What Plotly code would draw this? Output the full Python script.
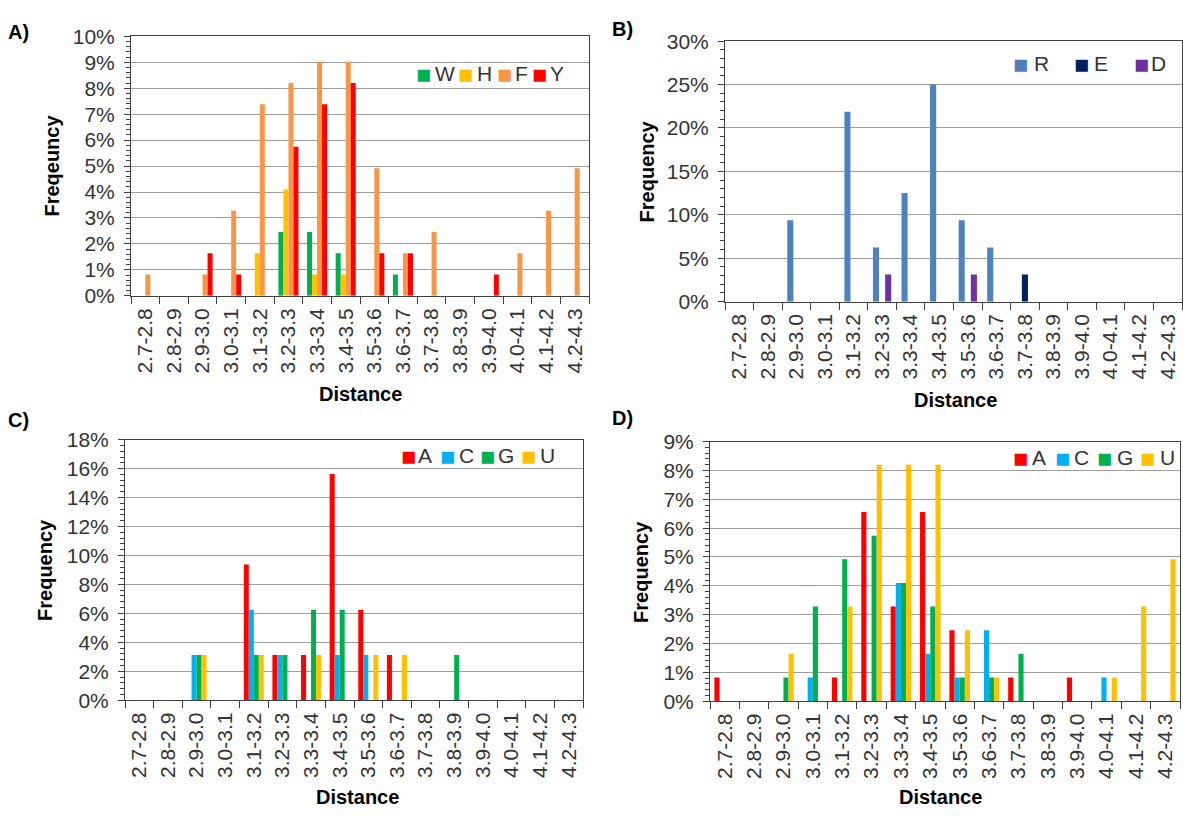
import plotly.graph_objects as go

W, H = 1183, 822

categories = ["2.7-2.8", "2.8-2.9", "2.9-3.0", "3.0-3.1", "3.1-3.2", "3.2-3.3",
              "3.3-3.4", "3.4-3.5", "3.5-3.6", "3.6-3.7", "3.7-3.8", "3.8-3.9",
              "3.9-4.0", "4.0-4.1", "4.1-4.2", "4.2-4.3"]

# Panel A (percent)
a_W = [0, 0, 0, 0, 0, 2.46, 2.46, 1.64, 0, 0.82, 0, 0, 0, 0, 0, 0]
a_H = [0, 0, 0, 0, 1.64, 4.10, 0.82, 0.82, 0, 0, 0, 0, 0, 0, 0, 0]
a_F = [0.82, 0, 0.82, 3.28, 7.38, 8.20, 9.02, 9.02, 4.92, 1.64, 2.46, 0, 0, 1.64, 3.28, 4.92]
a_Y = [0, 0, 1.64, 0.82, 0, 5.74, 7.38, 8.20, 1.64, 1.64, 0, 0, 0.82, 0, 0, 0]

# Panel B
b_R = [0, 0, 9.375, 0, 21.875, 6.25, 12.5, 25.0, 9.375, 6.25, 0, 0, 0, 0, 0, 0]
b_E = [0, 0, 0, 0, 0, 0, 0, 0, 0, 0, 3.125, 0, 0, 0, 0, 0]
b_D = [0, 0, 0, 0, 0, 3.125, 0, 0, 3.125, 0, 0, 0, 0, 0, 0, 0]

# Panel C
c_A = [0, 0, 0, 0, 9.375, 3.125, 3.125, 15.625, 6.25, 3.125, 0, 0, 0, 0, 0, 0]
c_C = [0, 0, 3.125, 0, 6.25, 3.125, 0, 3.125, 3.125, 0, 0, 0, 0, 0, 0, 0]
c_G = [0, 0, 3.125, 0, 3.125, 3.125, 6.25, 6.25, 0, 0, 0, 3.125, 0, 0, 0, 0]
c_U = [0, 0, 3.125, 0, 3.125, 0, 3.125, 0, 3.125, 3.125, 0, 0, 0, 0, 0, 0]

# Panel D
d_A = [0.82, 0, 0, 0, 0.82, 6.56, 3.28, 6.56, 2.46, 0, 0.82, 0, 0.82, 0, 0, 0]
d_C = [0, 0, 0, 0.82, 0, 0, 4.10, 1.64, 0.82, 2.46, 0, 0, 0, 0.82, 0, 0]
d_G = [0, 0, 0.82, 3.28, 4.92, 5.74, 4.10, 3.28, 0.82, 0.82, 1.64, 0, 0, 0, 0, 0]
d_U = [0, 0, 1.64, 0, 3.28, 8.20, 8.20, 8.20, 2.46, 0.82, 0, 0, 0, 0.82, 3.28, 4.92]

GREEN, YELLOW, ORANGE, RED = "#00B050", "#FFC000", "#F79646", "#FF0000"
BLUE, NAVY, PURPLE, CYAN = "#4F81BD", "#002060", "#7030A0", "#00B0F0"

FONT = "Liberation Sans, Arial, sans-serif"
TXT = "#333333"


def px_x(v):
    return v / W


def px_y(v):
    return 1 - v / H


panels = {
    "A": dict(box=(131, 589, 25, 292), ymax=10, dtick=1,
              series=[("W", a_W, GREEN), ("H", a_H, YELLOW), ("F", a_F, ORANGE), ("Y", a_Y, RED)]),
    "B": dict(box=(725, 1182, 30, 298), ymax=30, dtick=5,
              series=[("R", b_R, BLUE), ("E", b_E, NAVY), ("D", b_D, PURPLE)]),
    "C": dict(box=(125, 583, 440, 708), ymax=18, dtick=2,
              series=[("A", c_A, RED), ("C", c_C, CYAN), ("G", c_G, GREEN), ("U", c_U, YELLOW)]),
    "D": dict(box=(710, 1180, 442, 709), ymax=9, dtick=1,
              series=[("A", d_A, RED), ("C", d_C, CYAN), ("G", d_G, GREEN), ("U", d_U, YELLOW)]),
}

fig = go.Figure()
layout = {}
for i, (key, p) in enumerate(panels.items()):
    n = "" if i == 0 else str(i + 1)
    l, r, t, b = p["box"]
    k = len(p["series"])
    grp_w = 0.64 if key == "B" else 0.70
    bw = grp_w / k
    for j, (name, vals, col) in enumerate(p["series"]):
        fig.add_trace(go.Bar(
            x=categories, y=vals, name=name, marker_color=col,
            marker_line_width=0, width=bw, offset=-grp_w / 2 + j * bw,
            xaxis="x" + n, yaxis="y" + n, showlegend=False,
            hovertemplate=name + " %{x}: %{y:.2f}%<extra></extra>"))
    layout["xaxis" + n] = dict(
        domain=[px_x(l), px_x(r)], anchor="y" + n, type="category",
        tickangle=-90, ticks="outside", tickson="boundaries", ticklen=7,
        tickcolor="#404040", showline=True, linecolor="#404040", linewidth=1,
        mirror=True, showgrid=False, tickfont=dict(family=FONT, size=21, color=TXT),
        ticklabelstandoff=3, fixedrange=True)
    layout["yaxis" + n] = dict(
        domain=[px_y(b), px_y(t)], anchor="x" + n, range=[0, p["ymax"]],
        dtick=p["dtick"], tick0=0, ticksuffix="%", ticks="outside", ticklen=6,
        tickcolor="#404040", showline=True, linecolor="#404040", linewidth=1,
        mirror=True, showgrid=True, gridcolor="#9E9E9E", gridwidth=1,
        zeroline=False, tickfont=dict(family=FONT, size=21, color=TXT),
        minor=dict(dtick=p["dtick"] / 5, ticks="outside", ticklen=4,
                   tickcolor="#404040", showgrid=False),
        ticklabelstandoff=5, fixedrange=True)

annotations = []


def add_text(text, x, y, size=20, bold=True, angle=0, color="#000000", xanchor="center"):
    annotations.append(dict(
        text=("<b>%s</b>" % text) if bold else text, x=px_x(x), y=px_y(y),
        xref="paper", yref="paper", showarrow=False, textangle=angle,
        xanchor=xanchor, yanchor="middle",
        font=dict(family=FONT, size=size, color=color)))


# panel letters
add_text("A)", 18, 21)
add_text("B)", 622, 18)
add_text("C)", 18, 420)
add_text("D)", 622, 418)

# axis titles
add_text("Freqeuncy", 52, 158, angle=-90)
add_text("Frequency", 647, 164, angle=-90)
add_text("Frequency", 45, 574, angle=-90)
add_text("Frequency", 641, 576, angle=-90)
add_text("Distance", 360, 393)
add_text("Distance", 955, 399)
add_text("Distance", 358, 808)
add_text("Distance", 940, 808)

# legends: (square centre x, text left x, centre y)
legend_pos = {
    "A": ([(423, 433), (465, 475), (504, 513), (539, 548)], 63),
    "B": ([(1020, 1032), (1081, 1092), (1141, 1149)], 53),
    "C": ([(408, 416), (447, 457), (488, 496), (528, 538)], 456),
    "D": ([(1020, 1030), (1062, 1072), (1104, 1115), (1147, 1158)], 458),
}
for key, (pos, yc) in legend_pos.items():
    for (sx, tx), (name, vals, col) in zip(pos, panels[key]["series"]):
        add_text("\u25A0", sx, yc + 1, size=25, bold=False, color=col)
        add_text(name, tx, yc, size=21, bold=False, color=TXT, xanchor="left")

layout.update(dict(
    width=W, height=H, margin=dict(l=0, r=0, t=0, b=0),
    paper_bgcolor="white", plot_bgcolor="white", barmode="overlay",
    annotations=annotations, font=dict(family=FONT, color=TXT)))
fig.update_layout(**layout)
fig.write_html("out.html", config={"displayModeBar": False})
